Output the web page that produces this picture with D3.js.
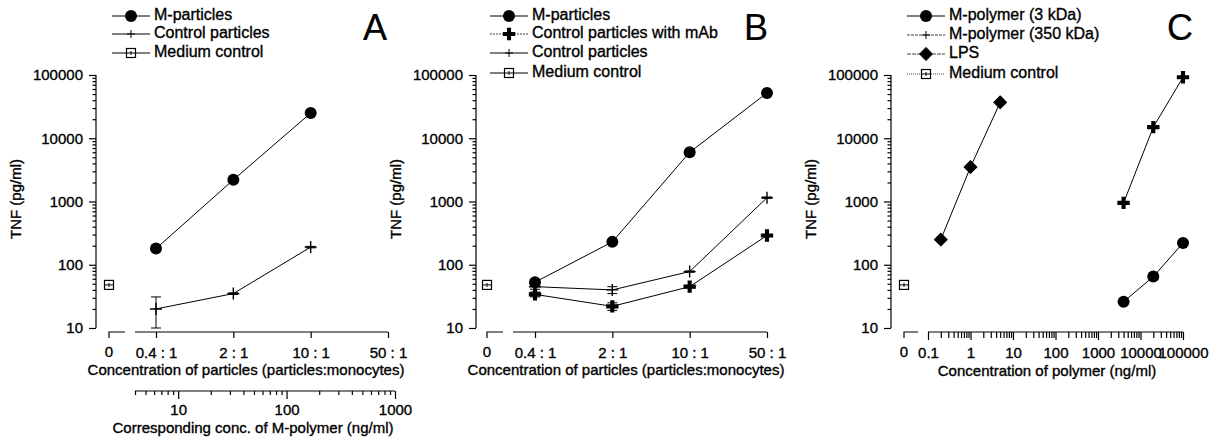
<!DOCTYPE html>
<html>
<head>
<meta charset="utf-8">
<script src="https://cdn.jsdelivr.net/npm/d3@7"></script>
<style>
  body { margin: 0; background: #fff; }
  svg { display: block; font-family: "Liberation Sans", Arial, sans-serif; }
  svg text { fill: #000; stroke: #000; stroke-width: 0.35; }
  .axis path, .axis line { stroke: #000; stroke-width: 1.2; }
  .axis text { font-size: 15px; font-family: "Liberation Sans", Arial, sans-serif; }
</style>
</head>
<body>
<svg id="chart" width="1209" height="439"></svg>
<script>
// shared
const tnfTicks = [10, 100, 1000, 10000, 100000];
const particleRatios = [0.4, 2, 10, 50];
const particleLabels = ["0.4 : 1", "2 : 1", "10 : 1", "50 : 1"];
const polymerTicks = [0.1, 1, 10, 100, 1000, 10000, 100000];
const mediumControl = 48;

// panel A
const aLegend = ["M-particles", "Control particles", "Medium control"];
const aMParticles = [180, 2200, 25000];
const aControl = [20, 35, 190];
const aControlLo = [10, 34, 185];
const aControlHi = [31, 36, 195];
const aPolymerTicks = [10, 100, 1000];

// panel B
const bLegend = ["M-particles", "Control particles with mAb", "Control particles", "Medium control"];
const bMParticles = [53, 230, 6000, 52000];
const bControlMab = [34, 22, 45, 290];
const bControlMabLo = [31, 19, 43, 280];
const bControlMabHi = [37, 25, 47, 300];
const bControl = [45, 40, 78, 1150];
const bControlLo = [41, 35, 76, 1120];
const bControlHi = [49, 45, 80, 1180];

// panel C
const cLegend = ["M-polymer (3 kDa)", "M-polymer (350 kDa)", "LPS", "Medium control"];
const cPolymerDoses = [4000, 20000, 100000];
const cPolymer3k = [26, 65, 220];
const cPolymer350k = [950, 15000, 92000];
const cLpsDoses = [0.2, 1, 5];
const cLps = [250, 3500, 37000];

const svg = d3.select("#chart");
const yTop = 75, yBottom = 328;
const y = d3.scaleLog().domain([10, 100000]).range([yBottom, yTop]);
const xAxisY = 332;

function drawYAxis(x0, labelX) {
  const g = svg.append("g").attr("class", "axis").attr("transform", `translate(${x0},0)`);
  const ticks = y.ticks();
  g.call(d3.axisLeft(y).tickValues(ticks).tickSize(7).tickPadding(6)
      .tickFormat(d => tnfTicks.includes(d) ? String(d) : ""));
  g.select(".domain").attr("d", `M0,${yTop}V${yBottom}`);
  g.selectAll(".tick line").attr("x2", d => tnfTicks.includes(d) ? -7 : -3.5);
  svg.append("text").attr("transform", `translate(${labelX},199) rotate(-90)`)
    .attr("text-anchor", "middle").attr("dominant-baseline", "middle")
    .style("font-size", "15px").text("TNF (pg/ml)");
}

function drawZeroStub(zx, stubEnd) {
  svg.append("path").attr("d", `M${zx},${xAxisY + 6}V${xAxisY}H${stubEnd}`)
    .attr("fill", "none").attr("stroke", "#000").attr("stroke-width", 1.2);
  svg.append("text").attr("x", zx).attr("y", 353).attr("text-anchor", "middle")
    .attr("dominant-baseline", "middle").style("font-size", "15px").text("0");
}

function drawParticleAxis(x, startX) {
  const g = svg.append("g").attr("class", "axis").attr("transform", `translate(0,${xAxisY})`);
  g.call(d3.axisBottom(x).tickValues(particleRatios).tickSize(6).tickPadding(9)
      .tickFormat((d, i) => particleLabels[i]));
  g.select(".domain").attr("d", `M${startX},0H${x(50)}`);
}

function curve(xs, ys, x) {
  svg.append("path").datum(xs.map((d, i) => [x(d), y(ys[i])]))
    .attr("d", d3.line()).attr("fill", "none").attr("stroke", "#000").attr("stroke-width", 1);
}

function errBars(xs, lo, hi, x, w) {
  xs.forEach((d, i) => {
    const cx = x(d), a = y(lo[i]), b = y(hi[i]);
    svg.append("path").attr("d", `M${cx},${a}V${b}M${cx - w},${a}H${cx + w}M${cx - w},${b}H${cx + w}`)
      .attr("stroke", "#000").attr("stroke-width", 1).attr("fill", "none");
  });
}

function marker(kind, cx, cy) {
  if (kind === "circle") {
    svg.append("circle").attr("cx", cx).attr("cy", cy).attr("r", 6).attr("fill", "#000");
  } else if (kind === "plus") {
    svg.append("path").attr("d", `M${cx - 6},${cy}H${cx + 6}M${cx},${cy - 6}V${cy + 6}`)
      .attr("stroke", "#000").attr("stroke-width", 1.4);
  } else if (kind === "bigplus") {
    svg.append("path").attr("d", d3.symbol(d3.symbolCross, 85)())
      .attr("transform", `translate(${cx},${cy})`).attr("fill", "#000");
  } else if (kind === "smallplus") {
    svg.append("path").attr("d", `M${cx - 4},${cy}H${cx + 4}M${cx},${cy - 4}V${cy + 4}`)
      .attr("stroke", "#000").attr("stroke-width", 1);
  } else if (kind === "diamond") {
    svg.append("rect").attr("x", -4.5).attr("y", -4.5).attr("width", 9).attr("height", 9)
      .attr("transform", `translate(${cx},${cy}) rotate(45)`).attr("fill", "#000")
      .attr("stroke", "#000").attr("stroke-width", 1).attr("stroke-linejoin", "round");
  } else if (kind === "square") {
    svg.append("rect").attr("x", cx - 4.5).attr("y", cy - 4.5).attr("width", 9).attr("height", 9)
      .attr("fill", "#fff").attr("stroke", "#000").attr("stroke-width", 1.2);
    svg.append("path").attr("d", `M${cx - 4},${cy}H${cx + 4}M${cx},${cy - 2}V${cy + 2}`)
      .attr("stroke", "#000").attr("stroke-width", 1);
  }
}

function series(xs, ys, x, kind) {
  curve(xs, ys, x);
  xs.forEach((d, i) => marker(kind, x(d), y(ys[i])));
}

function legend(x0, rows, names, kinds, dashes, letter, letterX) {
  names.forEach((n, i) => {
    const yy = rows[i];
    svg.append("line").attr("x1", x0).attr("x2", x0 + 38).attr("y1", yy).attr("y2", yy)
      .attr("stroke", dashes[i] ? "#444" : "#000").attr("stroke-width", 1.1)
      .attr("stroke-dasharray", dashes[i] || null);
    marker(kinds[i] === "plus" ? "smallplus" : kinds[i], x0 + 19, yy);
    svg.append("text").attr("x", x0 + 42).attr("y", yy).attr("dominant-baseline", "middle")
      .style("font-size", "16px").text(n);
  });
  svg.append("text").attr("x", letterX).attr("y", 40).attr("text-anchor", "middle")
    .style("font-size", "36px").style("stroke-width", "0.2").text(letter);
}

function mediumPoint(zx) {
  marker("square", zx, y(mediumControl));
}

// ---------- Panel A ----------
const xA = d3.scaleLog().domain([0.4, 50]).range([156, 388]);
drawYAxis(96, 17);
drawZeroStub(109, 125);
drawParticleAxis(xA, 135);
svg.append("text").attr("x", 246).attr("y", 371).attr("text-anchor", "middle")
  .attr("dominant-baseline", "middle").style("font-size", "15px")
  .text("Concentration of particles (particles:monocytes)");

const xApoly = d3.scaleLog().domain([4, 1000]).range([135, 395]);
const gPoly = svg.append("g").attr("class", "axis").attr("transform", "translate(0,391)");
gPoly.call(d3.axisBottom(xApoly).tickValues(xApoly.ticks()).tickSize(7).tickPadding(6)
  .tickFormat(d => aPolymerTicks.includes(d) ? String(d) : ""));
gPoly.select(".domain").attr("d", "M135,0H395");
gPoly.selectAll(".tick line").attr("y2", d => aPolymerTicks.includes(d) ? 8 : 4);
svg.append("text").attr("x", 253).attr("y", 429).attr("text-anchor", "middle")
  .attr("dominant-baseline", "middle").style("font-size", "15px")
  .text("Corresponding conc. of M-polymer (ng/ml)");

series(particleRatios.slice(0, 3), aMParticles, xA, "circle");
errBars(particleRatios.slice(0, 3), aControlLo, aControlHi, xA, 5);
series(particleRatios.slice(0, 3), aControl, xA, "plus");
mediumPoint(109);
legend(112, [16, 34, 53], aLegend, ["circle", "plus", "square"], [null, null, null], "A", 375);

// ---------- Panel B ----------
const xB = d3.scaleLog().domain([0.4, 50]).range([535, 767]);
drawYAxis(476, 397);
drawZeroStub(487, 503);
drawParticleAxis(xB, 513);
svg.append("text").attr("x", 626).attr("y", 371).attr("text-anchor", "middle")
  .attr("dominant-baseline", "middle").style("font-size", "15px")
  .text("Concentration of particles (particles:monocytes)");

errBars(particleRatios, bControlLo, bControlHi, xB, 5);
series(particleRatios, bControl, xB, "plus");
errBars(particleRatios, bControlMabLo, bControlMabHi, xB, 5);
series(particleRatios, bControlMab, xB, "bigplus");
series(particleRatios, bMParticles, xB, "circle");
mediumPoint(487);
legend(490, [16, 34, 53, 73], bLegend, ["circle", "bigplus", "plus", "square"],
  [null, "2,1", null, null], "B", 756);

// ---------- Panel C ----------
const xC = d3.scaleLog().domain([0.1, 100000]).range([928, 1183]);
drawYAxis(891, 812);
drawZeroStub(904, 918);
const gC = svg.append("g").attr("class", "axis").attr("transform", `translate(0,${xAxisY})`);
gC.call(d3.axisBottom(xC).tickValues(xC.ticks()).tickSize(8).tickPadding(7)
  .tickFormat(d => polymerTicks.includes(d) ? String(d) : ""));
gC.select(".domain").attr("d", "M928,0H1183");
gC.selectAll(".tick line").attr("y2", d => polymerTicks.includes(d) ? 8 : 6);
svg.append("text").attr("x", 1047).attr("y", 372).attr("text-anchor", "middle")
  .attr("dominant-baseline", "middle").style("font-size", "15px")
  .text("Concentration of polymer (ng/ml)");

series(cLpsDoses, cLps, xC, "diamond");
series(cPolymerDoses, cPolymer350k, xC, "bigplus");
series(cPolymerDoses, cPolymer3k, xC, "circle");
mediumPoint(904);
legend(907, [16, 35, 54, 74], cLegend, ["circle", "plus", "diamond", "square"],
  [null, "3,1", "4,1", "1,1"], "C", 1180);
</script>
</body>
</html>
